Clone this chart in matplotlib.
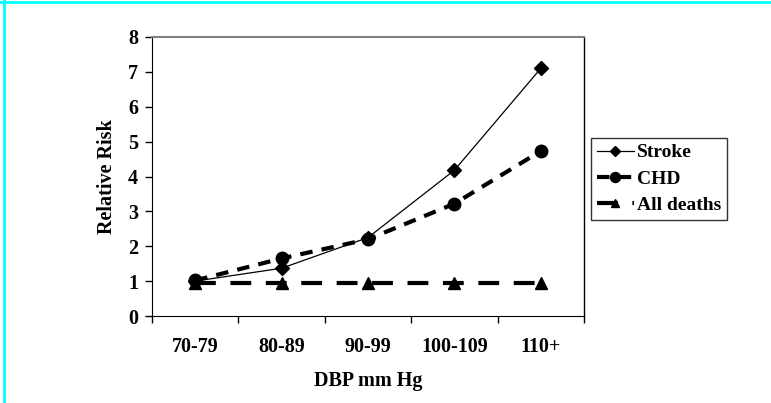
import matplotlib
matplotlib.use('Agg')
from matplotlib import pyplot as plt
from matplotlib.lines import Line2D

categories = ['70-79', '80-89', '90-99', '100-109', '110+']
stroke = [1.0, 1.37, 2.25, 4.18, 7.1]
chd = [1.02, 1.65, 2.2, 3.22, 4.73]
all_deaths = [0.95, 0.95, 0.95, 0.95, 0.95]

plt.rcParams['font.family'] = ['Liberation Serif', 'DejaVu Serif']
plt.rcParams['font.weight'] = 'bold'

fig = plt.figure(figsize=(7.71, 4.03), dpi=100)
ax = fig.add_axes([152 / 771, 87 / 403, 432 / 771, 279 / 403])

x = list(range(len(categories)))
ax.plot(x, stroke, '-', color='black', linewidth=0.9, marker='D', markersize=7, label='Stroke')
ax.plot(x, chd, '--', color='black', linewidth=3, dashes=(3, 2.2), marker='o', markersize=9, label='CHD')
ax.plot(x, all_deaths, '--', color='black', linewidth=3, dashes=(5, 3.5), marker='^', markersize=8, label='All deaths')

ax.set_xlim(-0.5, len(categories) - 0.5)
ax.set_ylim(0, 8)
ax.set_yticks(range(0, 9))
ax.set_xticks([i - 0.5 for i in range(len(categories) + 1)])
ax.set_xticklabels([])
ax.set_xticks(x, minor=True)
ax.set_xticklabels(categories, minor=True)
ax.tick_params(axis='x', which='minor', length=0, pad=15, labelsize=14.5)
ax.tick_params(axis='x', which='major', direction='out', length=5, width=1)
ax.tick_params(axis='y', direction='out', length=5, width=1, labelsize=14.5, pad=5)
for lbl in ax.get_xticklabels(minor=True) + ax.get_yticklabels():
    lbl.set_fontweight('bold')

ax.spines['top'].set_color('#808080')
ax.spines['top'].set_linewidth(1.5)
ax.spines['right'].set_linewidth(1)

ax.set_xlabel('DBP mm Hg', fontsize=14.5, fontweight='bold', labelpad=10)
ax.set_ylabel('Relative Risk', fontsize=14.5, fontweight='bold', labelpad=8)

leg = fig.legend(loc='upper left', bbox_to_anchor=(591 / 771, 1 - 138 / 403),
                 frameon=True, fancybox=False, edgecolor='black',
                 prop={'size': 14, 'weight': 'bold'}, handlelength=1.9,
                 markerscale=0.8, handletextpad=0.15, borderpad=0.3,
                 labelspacing=0.45, borderaxespad=0)
leg.get_frame().set_linewidth(1)

fig.add_artist(Line2D([4 / 771, 4 / 771], [0, 1], color='cyan', linewidth=2))
fig.add_artist(Line2D([0, 1], [1 - 2 / 403, 1 - 2 / 403], color='cyan', linewidth=2))

fig.savefig('out.png', dpi=100)
